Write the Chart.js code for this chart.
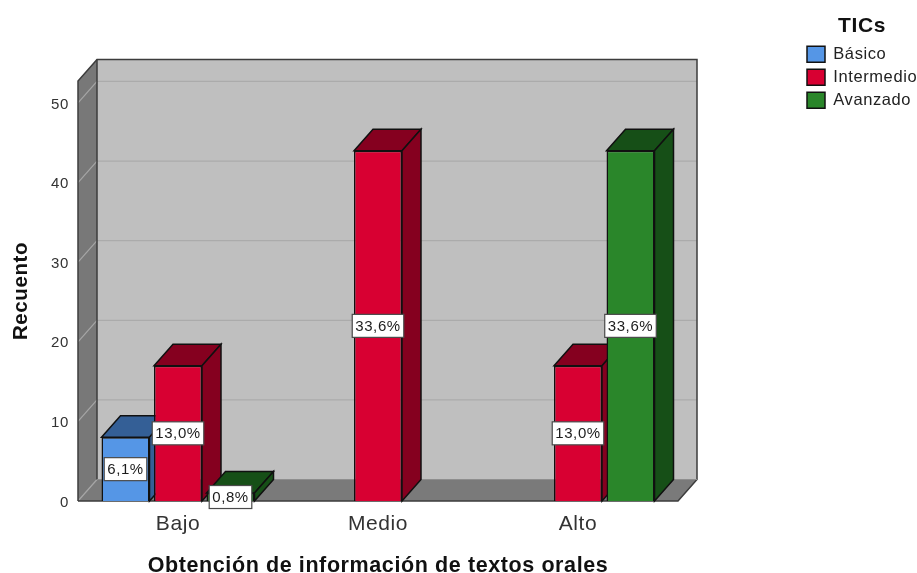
<!DOCTYPE html>
<html><head><meta charset="utf-8">
<style>html,body{margin:0;padding:0;background:#fff}canvas{display:block}</style>
<script src="https://cdn.jsdelivr.net/npm/chart.js@4"></script></head>
<body><canvas id="c" width="917" height="573"></canvas>
<script>
const categories = ['Bajo','Medio','Alto'];
const basico = [8,null,null];
const intermedio = [17,44,17];
const avanzado = [1,null,44];
const pctBasico = ['6,1%',null,null];
const pctIntermedio = ['13,0%','33,6%','13,0%'];
const pctAvanzado = ['0,8%',null,'33,6%'];
const yTicks = [0,10,20,30,40,50];
const yMax = 52.76;
const DX = 19, DY = 21.5;
const FONT = '"Liberation Sans", Arial, sans-serif';

function poly(ctx, pts, fill, stroke, lw){
  ctx.beginPath();
  pts.forEach((p,i)=> i ? ctx.lineTo(p[0],p[1]) : ctx.moveTo(p[0],p[1]));
  ctx.closePath();
  if(fill){ctx.fillStyle=fill;ctx.fill();}
  if(stroke){ctx.strokeStyle=stroke;ctx.lineWidth=lw||1;ctx.stroke();}
}
let ownPass = false;
const scene = {
  id:'scene',
  afterLayout(chart){
    const l = chart.legend;
    l.left = 800.5; l.right = 923.5; l.top = 10.4; l.bottom = 130;
    l.width = l.right-l.left; l.height = l.bottom-l.top;
  },
  beforeDraw(chart){
    chart.ctx.letterSpacing = '0.6px';
    chart.scales.y.getLabelItems().forEach(it=>{
      if(!it.shifted){it.options.translation[1]+=1.5;it.shifted=true;}
    });
  },
  beforeDatasetsDraw(chart){
    const {ctx,chartArea:a,scales:{y}} = chart;
    const L=a.left,R=a.right,T=a.top,B=a.bottom;
    ctx.save();
    poly(ctx,[[L,T],[L+DX,T-DY],[L+DX,B-DY],[L,B]],'#787878');
    poly(ctx,[[L+DX,T-DY],[R+DX,T-DY],[R+DX,B-DY],[L+DX,B-DY]],'#BFBFBF');
    poly(ctx,[[L,B],[L+DX,B-DY],[R+DX,B-DY],[R,B]],'#7A7A7A');
    yTicks.forEach(v=>{
      const py=y.getPixelForValue(v);
      if(v>0){
        ctx.strokeStyle='#ABABAB';ctx.lineWidth=1.2;
        ctx.beginPath();ctx.moveTo(L+DX,py-DY);ctx.lineTo(R+DX,py-DY);ctx.stroke();
      }
      ctx.strokeStyle='#A6A6A6';ctx.lineWidth=1.2;
      ctx.beginPath();ctx.moveTo(L,py);ctx.lineTo(L+DX,py-DY);ctx.stroke();
    });
    ctx.strokeStyle='#3C3C3C';ctx.lineWidth=1.5;
    ctx.beginPath();ctx.moveTo(L,B);ctx.lineTo(L,T);ctx.lineTo(L+DX,T-DY);ctx.lineTo(R+DX,T-DY);ctx.lineTo(R+DX,B-DY);ctx.lineTo(R,B);ctx.lineTo(L,B);ctx.stroke();
    ctx.beginPath();ctx.moveTo(L+DX,T-DY);ctx.lineTo(L+DX,B-DY);ctx.stroke();
    ctx.strokeStyle='#8E8E8E';ctx.lineWidth=1;
    ctx.beginPath();ctx.moveTo(L+DX,B-DY);ctx.lineTo(R+DX,B-DY);ctx.stroke();
    ctx.restore();
  },
  beforeDatasetDraw(){ return ownPass; },
  afterDatasetsDraw(chart){
    const {ctx}=chart;
    ownPass = true;
    chart.data.datasets.forEach((ds,di)=>{
      const meta=chart.getDatasetMeta(di);
      ctx.save();
      meta.data.forEach((b,i)=>{
        if(ds.data[i]==null) return;
        const p=b.getProps(['x','y','base','width'],true);
        const x0=p.x-p.width/2,x1=p.x+p.width/2;
        poly(ctx,[[x0,p.y],[x0+DX,p.y-DY],[x1+DX,p.y-DY],[x1,p.y]],ds.shade,'#101010',1.5);
        poly(ctx,[[x1,p.y],[x1+DX,p.y-DY],[x1+DX,p.base-DY],[x1,p.base]],ds.shade,'#101010',1.5);
      });
      ctx.restore();
      meta.controller.draw();
    });
    ownPass = false;
  },
  afterDraw(chart){
    const {ctx}=chart;
    ctx.save();
    ctx.font='15px '+FONT;ctx.textAlign='center';ctx.textBaseline='middle';
    chart.data.datasets.forEach((ds,di)=>{
      chart.getDatasetMeta(di).data.forEach((b,i)=>{
        const t=ds.pct[i]; if(!t) return;
        const cy=(b.y+b.base)/2, w=ctx.measureText(t).width+6, h=23;
        ctx.fillStyle='#fff';ctx.strokeStyle='#4A4A4A';ctx.lineWidth=1.2;
        ctx.fillRect(b.x-w/2,cy-h/2,w,h);ctx.strokeRect(b.x-w/2,cy-h/2,w,h);
        ctx.fillStyle='#1C1C1C';ctx.fillText(t,b.x,cy+1);
      });
    });
    ctx.restore();
  }
};
const bp=0.914, cp=0.7875;
new Chart(document.getElementById('c'),{
  type:'bar',
  plugins:[scene],
  data:{labels:categories,datasets:[
    {label:'Básico',data:basico,pct:pctBasico,backgroundColor:'#5596E6',shade:'#345F96',borderColor:'#111',borderWidth:1.5,barPercentage:bp,categoryPercentage:cp},
    {label:'Intermedio',data:intermedio,pct:pctIntermedio,backgroundColor:'#D80032',shade:'#85001F',borderColor:'#111',borderWidth:1.5,barPercentage:bp,categoryPercentage:cp},
    {label:'Avanzado',data:avanzado,pct:pctAvanzado,backgroundColor:'#2A862A',shade:'#164F17',borderColor:'#111',borderWidth:1.5,barPercentage:bp,categoryPercentage:cp}
  ]},
  options:{
    responsive:false,animation:false,
    layout:{padding:{top:81,right:239,left:0,bottom:0}},
    plugins:{
      tooltip:{enabled:false},
      legend:{
        position:'chartArea',align:'start',
        title:{display:true,text:'TICs',color:'#111',position:'center',padding:{top:5,bottom:-1},font:{family:FONT,size:21,weight:'bold'}},
        labels:{boxWidth:18,boxHeight:16,padding:6.5,color:'#222',font:{family:FONT,size:16.5}}
      }
    },
    scales:{
      x:{
        grid:{display:false},border:{display:false},
        afterFit(s){s.height=72;},
        ticks:{color:'#333',padding:3,font:{family:FONT,size:21}},
        title:{display:true,text:'Obtención de información de textos orales',color:'#111',padding:{top:0,bottom:-6},font:{family:FONT,size:21.5,weight:'bold'}}
      },
      y:{
        min:0,max:yMax,
        grid:{display:false},border:{display:false},
        afterFit(s){s.width=78;},
        afterBuildTicks(s){s.ticks=yTicks.map(v=>({value:v}));},
        ticks:{color:'#333',padding:1,font:{family:FONT,size:15}},
        title:{display:true,text:'Recuento',color:'#111',padding:{top:9,bottom:0},font:{family:FONT,size:20.5,weight:'bold'}}
      }
    }
  }
});
</script></body></html>
